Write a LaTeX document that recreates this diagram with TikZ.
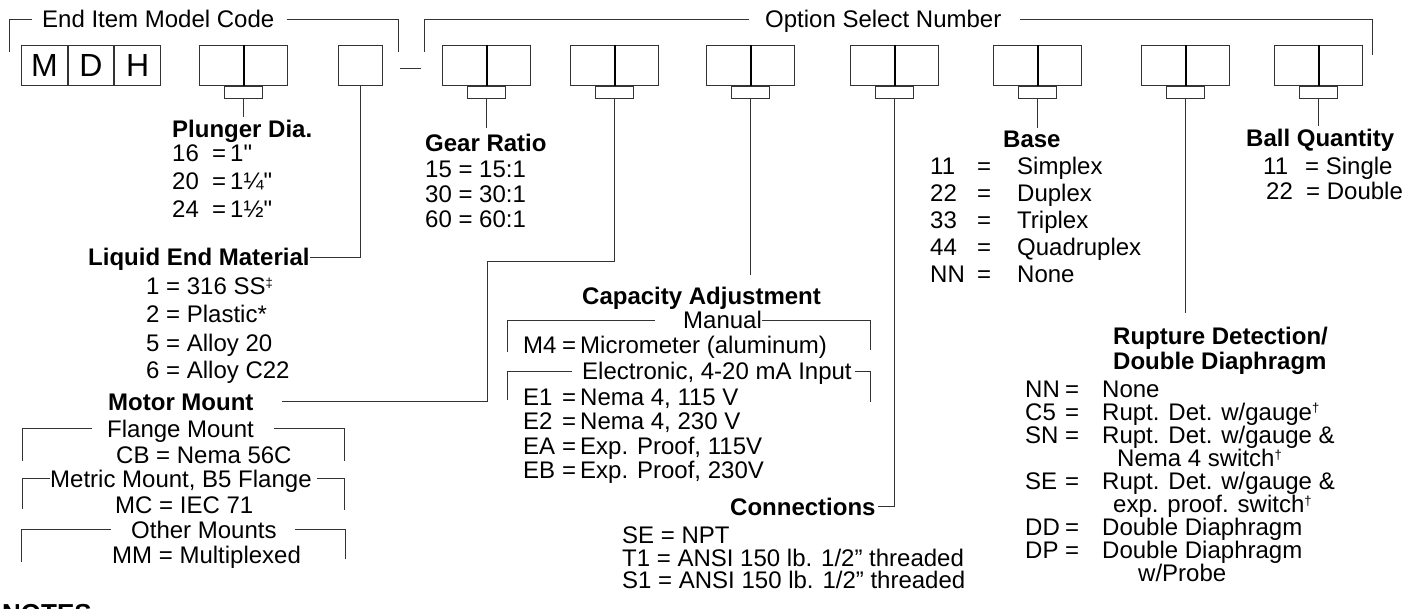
\documentclass[tikz,border=0pt]{standalone}
\usepackage{fontspec}
\setmainfont{Liberation Sans}
\usetikzlibrary{positioning}

\tikzset{
  wire/.style={draw=black!80, line width=1pt},
  divider/.style={draw=black, line width=2pt},
  digits/.style={wire, minimum width=88pt, minimum height=40pt, inner sep=0pt, anchor=north west},
  onebox/.style={wire, minimum width=44pt, minimum height=40pt, inner sep=0pt, anchor=north west},
  letter/.style={wire, minimum width=45.7pt, minimum height=40pt, inner sep=0pt, font=\fontsize{32}{36}\selectfont},
  tabbox/.style={wire, minimum width=38pt, minimum height=12pt, inner sep=0pt, anchor=north},
  txt/.style={inner sep=0pt, text height=17pt, text depth=0pt, anchor=base west},
  hd/.style={txt, font=\fontsize{24}{28}\selectfont\bfseries},
}
% two-digit box with its centre divider and the tab below it
\newcommand{\digitbox}[2]{%
  \node[digits] (#1) at (#2,45) {};
  \draw[divider] (#1.north) -- (#1.south);
  \node[tabbox] (#1tab) at (#1.south) {};}
% straight inch mark and small raised footnote signs
\newcommand{\inch}{\XeTeXglyph\XeTeXcharglyph"22\relax}
\newcommand{\fn}[1]{\raisebox{7pt}{\fontsize{13}{13}\selectfont #1}}

\begin{document}
\begin{tikzpicture}[x=1pt,y=-1pt,font=\fontsize{24}{28}\selectfont]
\useasboundingbox (0,0) rectangle (1416,609);

% model code brackets
\node[txt] (emc) at (42,28) {End Item Model Code};
\draw[wire] ([xshift=-10pt]emc.west) -| ++(-23,33);
\draw[wire] ([xshift=12pt]emc.east) -| ++(112,33);
\node[txt] (osn) at (765,28) {Option Select Number};
\draw[wire] ([xshift=-16pt]osn.west) -| ++(-325,33);
\draw[wire] ([xshift=18pt]osn.east) -| ++(353,36);

% boxes
\node[letter, anchor=north west] (m) at (21,45) {M};
\node[letter, right=0pt of m] (d) {D};
\node[letter, right=0pt of d] (h) {H};
\digitbox{plungerbox}{199}
\node[onebox] (liquidbox) at (338,45) {};
\draw[wire] (400,69) -- ++(21,0);
\digitbox{gearbox}{442}
\digitbox{mountbox}{570}
\digitbox{capbox}{706}
\digitbox{connbox}{850}
\digitbox{basebox}{993}
\digitbox{rupbox}{1141}
\digitbox{ballbox}{1274}

% plunger
\node[hd] (plunger) at (172,138) {Plunger Dia.};
\node[txt] (pd16) at (172,162) {\makebox[40pt][l]{16}=\,1\inch};
\node[txt] (pd20) at (172,190) {\makebox[40pt][l]{20}=\,1¼\inch};
\node[txt] (pd24) at (172,218) {\makebox[40pt][l]{24}=\,1½\inch};
\draw[wire, shorten >=4pt] (plungerboxtab.south) -- (plungerboxtab.south |- plunger.north);

% liquid end
\node[hd] (liquid) at (88,266) {Liquid End Material};
\draw[wire] (liquidbox.south) |- (liquid.east);
\node[txt] (le1) at (146,295) {1 = 316 SS\fn{‡}};
\node[txt] (le2) at (146,323) {2 = Plastic*};
\node[txt] (le5) at (146,352) {5 = Alloy 20};
\node[txt] (le6) at (146,379) {6 = Alloy C22};

% motor mount
\node[hd] (mount) at (108,410) {Motor Mount};
\coordinate (mbend) at (487,262);
\draw[wire] (mountboxtab.south) |- (mbend) |- ([xshift=28pt]mount.east);
\node[txt] (flange) at (107,437) {Flange Mount};
\draw[wire] ([xshift=-15pt]flange.west) -| ++(-70,32);
\draw[wire] ([xshift=20pt]flange.east) -| ++(70,32);
\node[txt] (cb) at (116,463) {CB = Nema 56C};
\node[txt] (metric) at (50,487) {Metric Mount, B5 Flange};
\draw[wire] (metric.west) -| ++(-28,30);
\draw[wire] ([xshift=5pt]metric.east) -| ++(28,31);
\node[txt] (mc) at (115,513) {MC = IEC 71};
\node[txt] (other) at (131,538) {Other Mounts};
\draw[wire] ([xshift=-20pt]other.west) -| ++(-90,32);
\draw[wire] ([xshift=18pt]other.east) -| ++(51,29);
\node[txt] (mm) at (112,563) {MM = Multiplexed};
\node[hd, font=\fontsize{26}{30}\selectfont\bfseries] (notes) at (2,622) {NOTES};

% gear ratio
\node[hd] (gear) at (425,152) {Gear Ratio};
\draw[wire, shorten >=7pt] (gearboxtab.south) -- (gearboxtab.south |- gear.north);
\node[txt] (gr15) at (425,178) {15 = 15:1};
\node[txt] (gr30) at (425,203) {30 = 30:1};
\node[txt] (gr60) at (425,228) {60 = 60:1};

% capacity adjustment
\node[hd] (cap) at (582,305) {Capacity Adjustment};
\draw[wire, shorten >=13pt] (capboxtab.south) -- (capboxtab.south |- cap.north);
\node[txt] (manual) at (683,329) {Manual};
\draw[wire] ([xshift=-28pt]manual.west) -| ++(-148,32);
\draw[wire] (manual.east) -| ++(108,30);
\node[txt] (m4) at (523,354) {\makebox[39pt][l]{M4}=\,Micrometer (aluminum)};
\node[txt] (elec) at (582,380) {Electronic, 4-20 mA Input};
\draw[wire] ([xshift=-10pt]elec.west) -| ++(-65,28);
\draw[wire] ([xshift=3pt]elec.east) -| ++(16,30);
\node[txt] (e1) at (523,405) {\makebox[39pt][l]{E1}=\,Nema 4, 115 V};
\node[txt] (e2) at (523,429) {\makebox[39pt][l]{E2}=\,Nema 4, 230 V};
\node[txt] (ea) at (523,454) {\makebox[39pt][l]{EA}=\,Exp. Proof, 115V};
\node[txt] (eb) at (523,478) {\makebox[39pt][l]{EB}=\,Exp. Proof, 230V};

% connections
\node[hd] (conn) at (730,515) {Connections};
\draw[wire] (connboxtab.south) |- ([xshift=2pt]conn.east);
\node[txt] (se) at (622,543) {SE = NPT};
\node[txt] (t1) at (622,566) {T1 = ANSI 150 lb. 1/2” threaded};
\node[txt] (s1) at (622,588) {S1 = ANSI 150 lb. 1/2” threaded};

% base
\node[hd] (base) at (1003,148) {Base};
\draw[wire, shorten >=3pt] (baseboxtab.south) -- (baseboxtab.south |- base.north);
\node[txt] (b11) at (930,175) {\makebox[47pt][l]{11}\makebox[40pt][l]{=}Simplex};
\node[txt] (b22) at (930,202) {\makebox[47pt][l]{22}\makebox[40pt][l]{=}Duplex};
\node[txt] (b33) at (930,229) {\makebox[47pt][l]{33}\makebox[40pt][l]{=}Triplex};
\node[txt] (b44) at (930,256) {\makebox[47pt][l]{44}\makebox[40pt][l]{=}Quadruplex};
\node[txt] (bnn) at (930,283) {\makebox[47pt][l]{NN}\makebox[40pt][l]{=}None};

% rupture detection
\node[hd] (rup) at (1113,345) {Rupture Detection/};
\node[hd] (rup2) at (1113,370) {Double Diaphragm};
\draw[wire, shorten >=15pt] (rupboxtab.south) -- (rupboxtab.south |- rup.north);
\node[txt] (rnn) at (1025,397) {\makebox[40pt][l]{NN}\makebox[37pt][l]{=}None};
\node[txt] (rc5) at (1025,420) {\makebox[40pt][l]{C5}\makebox[37pt][l]{=}Rupt. Det. w/gauge\fn{†}};
\node[txt] (rsn) at (1025,443) {\makebox[40pt][l]{SN}\makebox[37pt][l]{=}Rupt. Det. w/gauge \&};
\node[txt] (rsn2) at (1117,466) {Nema 4 switch\fn{†}};
\node[txt] (rse) at (1025,489) {\makebox[40pt][l]{SE}\makebox[37pt][l]{=}Rupt. Det. w/gauge \&};
\node[txt] (rse2) at (1113,512) {exp. proof. switch\fn{†}};
\node[txt] (rdd) at (1025,535) {\makebox[40pt][l]{DD}\makebox[37pt][l]{=}Double Diaphragm};
\node[txt] (rdp) at (1025,558) {\makebox[40pt][l]{DP}\makebox[37pt][l]{=}Double Diaphragm};
\node[txt] (rdp2) at (1138,581) {w/Probe};

% ball quantity
\node[hd] (ball) at (1246,147) {Ball Quantity};
\draw[wire, shorten >=4pt] (ballboxtab.south) -- (ballboxtab.south |- ball.north);
\node[txt] (q11) at (1263,175) {\makebox[42pt][l]{11}= Single};
\node[txt] (q22) at (1266,200) {\makebox[40pt][l]{22}= Double};
\end{tikzpicture}
\end{document}
